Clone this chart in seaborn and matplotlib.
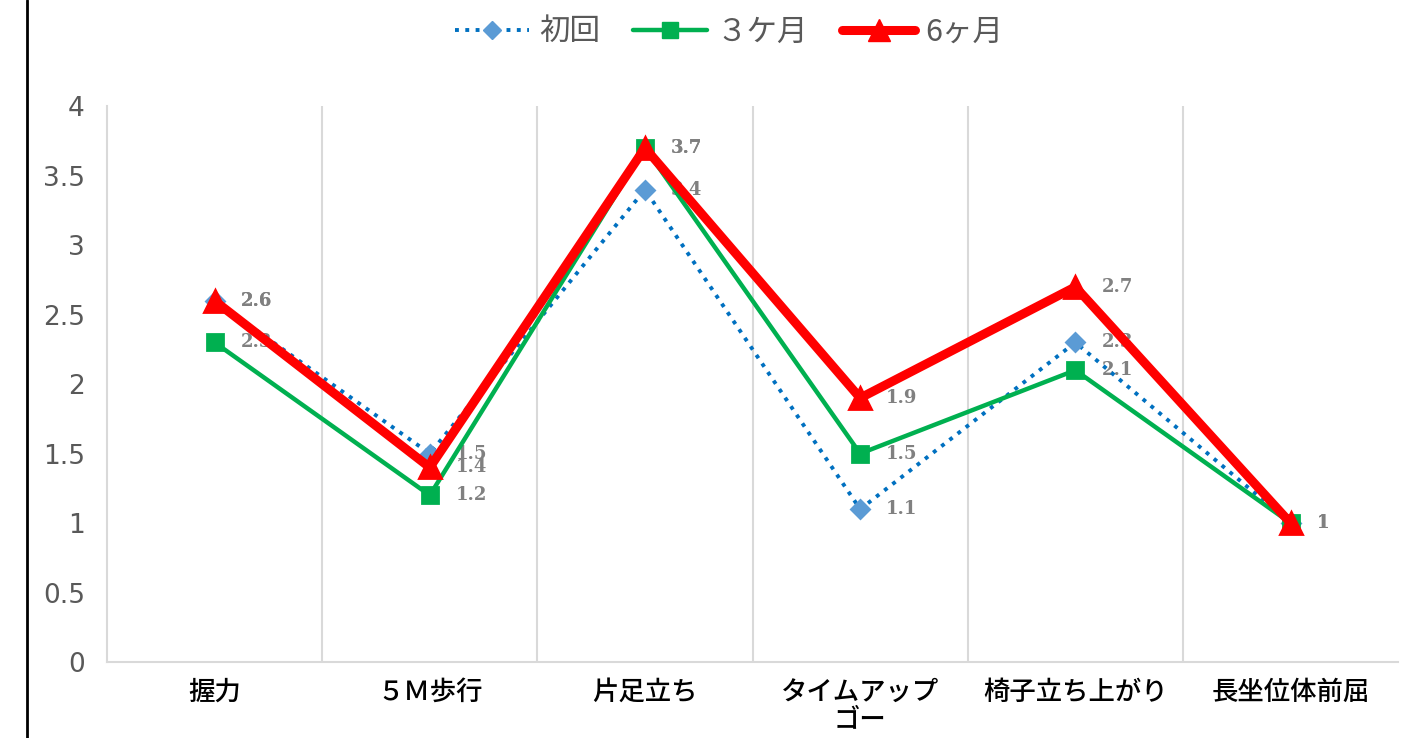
import matplotlib
matplotlib.use("Agg")
import matplotlib.pyplot as plt
import matplotlib.lines as mlines
import seaborn as sns
import pandas as pd

categories = ["握力", "５Ｍ歩行", "片足立ち", "タイムアップ\nゴー", "椅子立ち上がり", "長坐位体前屈"]
series_names = ["初回", "３ケ月", "6ヶ月"]
initial = [2.6, 1.5, 3.4, 1.1, 2.3, 1.0]
month3 = [2.3, 1.2, 3.7, 1.5, 2.1, 1.0]
month6 = [2.6, 1.4, 3.7, 1.9, 2.7, 1.0]
yticks = [0, 0.5, 1, 1.5, 2, 2.5, 3, 3.5, 4]

sns.set_theme(style="white")
plt.rcParams["font.family"] = ["Noto Sans CJK JP", "DejaVu Sans"]

fig = plt.figure(figsize=(14.08, 7.38), dpi=100)
ax = fig.add_axes([0.076, 0.103, 0.917, 0.753])

styles = [
    dict(color="#0070C0", lw=2.8, ls=":", marker="D", ms=9, mfc="#5B9BD5", mec="#5B9BD5", z=3),
    dict(color="#00B050", lw=3.2, ls="-", marker="s", ms=12, mfc="#00B050", mec="#00B050", z=4),
    dict(color="#FF0000", lw=6.5, ls="-", marker="^", ms=16, mfc="#FF0000", mec="#FF0000", z=5),
]
all_vals = [initial, month3, month6]
x_idx = list(range(len(categories)))
handles = []
for name, vals, st in zip(series_names, all_vals, styles):
    df = pd.DataFrame({"x": x_idx, "y": vals})
    sns.lineplot(data=df, x="x", y="y", ax=ax, color=st["color"], linewidth=st["lw"],
                 linestyle=st["ls"], marker=st["marker"], markersize=st["ms"],
                 markerfacecolor=st["mfc"], markeredgecolor=st["mec"], markeredgewidth=2,
                 zorder=st["z"], legend=False)
    handles.append(mlines.Line2D([], [], color=st["color"], lw=st["lw"], ls=st["ls"],
                                 marker=st["marker"], ms=st["ms"], mfc=st["mfc"],
                                 mec=st["mec"], label=name))
    for i, v in enumerate(vals):
        ax.annotate(f"{v:g}", xy=(i, v), xytext=(26, 0), textcoords="offset pixels",
                    ha="left", va="center", fontsize=13, fontweight="bold",
                    color="#808080", family=["DejaVu Serif"], zorder=2)

ax.set_xlim(-0.5, len(categories) - 0.5)
ax.set_ylim(0, 4)
ax.set_xticks(x_idx)
ax.set_xticklabels(categories, fontsize=19, color="black", fontweight="medium", linespacing=1.0)
ax.set_yticks(yticks)
ax.set_yticklabels([f"{t:g}" for t in yticks], fontsize=19, color="#595959",
                   family=["DejaVu Sans"])
ax.tick_params(axis="y", length=0, pad=16)
ax.tick_params(axis="x", length=0, pad=12)
ax.set_xlabel("")
ax.set_ylabel("")

for b in [i + 0.5 for i in range(len(categories) - 1)]:
    ax.axvline(b, color="#D9D9D9", lw=1.5, zorder=0)

for s in ["top", "right"]:
    ax.spines[s].set_visible(False)
for s in ["left", "bottom"]:
    ax.spines[s].set_color("#D9D9D9")
    ax.spines[s].set_linewidth(1.5)

fig.legend(handles=handles, loc="upper center", bbox_to_anchor=(0.518, 1.015), ncol=3,
           frameon=False, fontsize=22, handlelength=2.4, columnspacing=1.1,
           handletextpad=0.33, labelcolor="#595959")

fig.add_artist(mlines.Line2D([27 / 1408, 27 / 1408], [0, 1], color="black", lw=2,
                             transform=fig.transFigure))

fig.savefig("out.png", dpi=100)
